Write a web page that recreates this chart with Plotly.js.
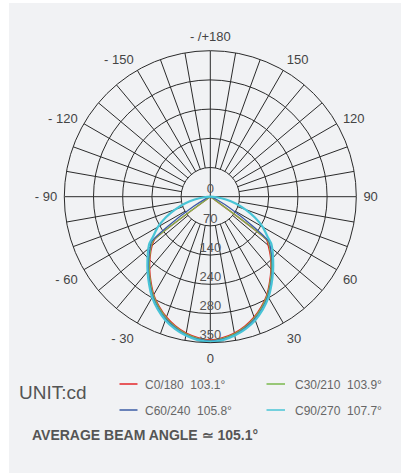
<!DOCTYPE html>
<html>
<head>
<meta charset="utf-8">
<script src="https://cdn.plot.ly/plotly-3.0.1.min.js"></script>
<style>
  html, body { margin: 0; padding: 0; background: #ffffff; }
  #wrap { position: absolute; left: 9px; top: 3px; width: 392px; height: 470px; background: #f1f2f4; }
  #chart { width: 392px; height: 470px; }
</style>
</head>
<body>
<div id="wrap"><div id="chart"></div></div>
<script>
// ---- data ----
const seriesNames = ["C0/180", "C30/210", "C60/240", "C90/270"];
const beamAngles = ["103.1°", "103.9°", "105.8°", "107.7°"];
const seriesColors = ["#e3262a", "#7ab84e", "#3b5ca6", "#48c4d6"];
const averageBeam = "105.1°";

const theta = [-90,-85,-80,-75,-70,-65,-60,-55,-52.5,-50,-45,-40,-35,-30,-25,-20,-15,-10,-5,0,5,10,15,20,25,30,35,40,45,50,52.5,55,60,65,70,75,80,85,90];

const rC0  = [0,0,0,0,0,0,0,0,168,182,204,226,248,271,290,307,321,332,339,343,339,332,321,307,290,271,248,226,204,181,170,10,0,0,0,0,0,0,0];
const rC30 = [0,0,0,0,0,0,0,0,172,185,206,228,250,273,292,309,323,334,341,345,341,334,323,309,292,273,250,228,206,185,173,15,0,0,0,0,0,0,0];
const rC60 = [0,0,0,0,5,15,45,125,178,188,209,231,253,276,295,312,325,336,343,346,343,336,325,312,295,276,253,231,209,188,178,130,55,20,5,0,0,0,0];
const rC90 = [0,15,38,63,90,118,145,168,184,194,213,234,256,279,298,315,328,338,345,348,345,338,328,315,298,279,256,234,213,194,184,168,145,118,90,63,38,15,0];
const seriesR = [rC0, rC30, rC60, rC90];

const radialTicks = [0, 70, 140, 210, 280, 350];
const radialTickText = ["0", "70", "140", "240", "280", "350"];
const angTickVals = [0,30,60,90,120,150,180,210,240,270,300,330];
const angTickText = ["0","30","60","90","120","150","- /+180","- 150","- 120","- 90","- 60","- 30"];

// ---- grid spokes (every 10°, full through centre on the main axes) ----
const spokeR = [], spokeT = [];
for (let a = 0; a < 360; a += 10) {
  spokeR.push(a % 90 === 0 ? 0 : 70, 350, null);
  spokeT.push(a, a, null);
}

const gridColor = "#2a2a2a";
const traces = [{
  type: "scatterpolar", mode: "lines", r: spokeR, theta: spokeT,
  line: {color: gridColor, width: 1}, hoverinfo: "skip", showlegend: false, connectgaps: false
}];

seriesR.forEach((r, i) => {
  traces.push({
    type: "scatterpolar", mode: "lines", r: r, theta: theta, name: seriesNames[i],
    line: {color: seriesColors[i], width: i === 3 ? 2.2 : 1.3, shape: "spline", smoothing: 0.6}, showlegend: false
  });
});

traces.push({
  type: "scatterpolar", mode: "text", r: radialTicks, theta: radialTicks.map(() => 0),
  text: radialTickText, textposition: "top center",
  textfont: {family: "Liberation Sans, Arial, sans-serif", size: 13, color: "#555555"},
  hoverinfo: "skip", showlegend: false
});

// ---- legend / notes ----
const W = 392, H = 470, OX = 9, OY = 3;
const px = x => (x - OX) / W;
const py = y => 1 - (y - OY) / H;

const annotations = [{
  text: "UNIT:cd", x: px(17), y: py(392), xref: "paper", yref: "paper",
  xanchor: "left", yanchor: "middle", showarrow: false,
  font: {family: "Liberation Sans, Arial, sans-serif", size: 19, color: "#555555"}
}, {
  text: "<b>AVERAGE BEAM ANGLE ≃ " + averageBeam + "</b>", x: px(30), y: py(435), xref: "paper", yref: "paper",
  xanchor: "left", yanchor: "middle", showarrow: false,
  font: {family: "Liberation Sans, Arial, sans-serif", size: 14, color: "#555555"}
}];
const shapes = [];
const colX = [[119.5, 137.5, 143], [266.5, 285, 292.5]];
const rowY = [385, 411];
seriesNames.forEach((n, i) => {
  const col = (i === 0 || i === 2) ? 0 : 1;
  const row = (i === 0 || i === 1) ? 0 : 1;
  shapes.push({type: "line", xref: "paper", yref: "paper",
    x0: px(colX[col][0]), x1: px(colX[col][1]), y0: py(rowY[row] - 1), y1: py(rowY[row] - 1),
    line: {color: seriesColors[i], width: 1.5}});
  annotations.push({
    text: n + "  " + beamAngles[i], x: px(colX[col][2]), y: py(rowY[row]), xref: "paper", yref: "paper",
    xanchor: "left", yanchor: "middle", showarrow: false,
    font: {family: "Liberation Sans, Arial, sans-serif", size: 12, color: "#666666"}
  });
});

const cx = 210.3 - OX, cy = 196.7 - OY, R = 146;
const layout = {
  width: W, height: H,
  margin: {l: 0, r: 0, t: 0, b: 0},
  paper_bgcolor: "rgba(0,0,0,0)", plot_bgcolor: "rgba(0,0,0,0)",
  showlegend: false,
  polar: {
    domain: {x: [(cx - R) / W, (cx + R) / W], y: [1 - (cy + R) / H, 1 - (cy - R) / H]},
    bgcolor: "rgba(0,0,0,0)",
    radialaxis: {
      range: [0, 350], tickmode: "array", tickvals: [70, 140, 210, 280, 350],
      showticklabels: false, ticks: "", showline: false,
      gridcolor: gridColor, gridwidth: 1, angle: 270
    },
    angularaxis: {
      rotation: 270, direction: "counterclockwise",
      tickmode: "array", tickvals: angTickVals, ticktext: angTickText,
      showgrid: false, ticks: "outside", ticklen: 4, tickcolor: "rgba(0,0,0,0)",
      showline: true, linecolor: gridColor, linewidth: 1,
      tickfont: {family: "Liberation Sans, Arial, sans-serif", size: 13, color: "#444444"}
    }
  },
  annotations: annotations,
  shapes: shapes
};

Plotly.newPlot("chart", traces, layout, {displayModeBar: false, staticPlot: true});
</script>
</body>
</html>
